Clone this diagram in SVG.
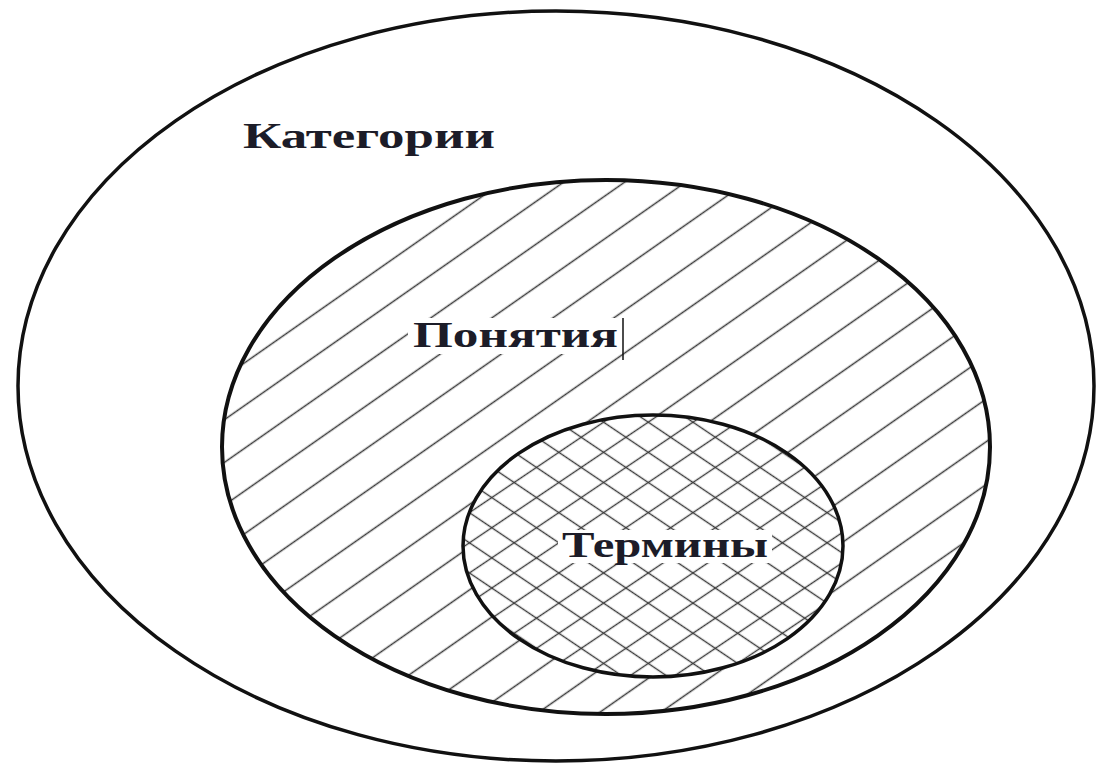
<svg xmlns="http://www.w3.org/2000/svg" width="1096" height="766" viewBox="0 0 1096 766">
  <style>
    .ring { fill: none; stroke: #111; }
    .label { font-family: "Liberation Serif", "Times New Roman", serif; font-weight: bold; fill: #1c1c28; }
    .hl { stroke: #3a3a3a; stroke-width: 1.4; }
  </style>
  <defs>
    <pattern id="hatch" patternUnits="userSpaceOnUse" width="35" height="35" patternTransform="rotate(-35)">
      <line class="hl" x1="-1" y1="17.5" x2="36" y2="17.5"/>
    </pattern>
    <pattern id="crossA" patternUnits="userSpaceOnUse" width="25" height="25" patternTransform="rotate(-34)">
      <line class="hl" x1="-1" y1="12.5" x2="26" y2="12.5"/>
    </pattern>
    <pattern id="crossB" patternUnits="userSpaceOnUse" width="25" height="25" patternTransform="rotate(34)">
      <line class="hl" x1="-1" y1="12.5" x2="26" y2="12.5"/>
    </pattern>
  </defs>
  <rect width="1096" height="766" fill="#fff"/>

  <g id="categories">
    <ellipse class="ring" cx="556" cy="386" rx="538" ry="375" stroke-width="3.5"/>
    <text class="label" x="243" y="148" font-size="36" textLength="252" lengthAdjust="spacingAndGlyphs">Категории</text>
  </g>

  <g id="concepts">
    <ellipse cx="606" cy="447" rx="384" ry="267" fill="url(#hatch)"/>
    <ellipse class="ring" cx="606" cy="447" rx="384" ry="267" stroke-width="4"/>
    <rect x="408" y="318" width="214" height="36" fill="#fff"/>
    <text class="label" x="413" y="347" font-size="35" textLength="205" lengthAdjust="spacingAndGlyphs">Понятия</text>
    <line x1="623" y1="318" x2="623" y2="360" stroke="#111" stroke-width="1.5"/>
  </g>

  <g id="terms">
    <ellipse cx="653" cy="546" rx="190" ry="131" fill="#fff"/>
    <ellipse cx="653" cy="546" rx="190" ry="131" fill="url(#crossA)"/>
    <ellipse cx="653" cy="546" rx="190" ry="131" fill="url(#crossB)"/>
    <ellipse class="ring" cx="653" cy="546" rx="190" ry="131" stroke-width="3.5"/>
    <rect x="558" y="530" width="214" height="33" fill="#fff"/>
    <text class="label" x="562" y="557" font-size="35" textLength="206" lengthAdjust="spacingAndGlyphs">Термины</text>
  </g>

  <g id="connectors"/>
</svg>
